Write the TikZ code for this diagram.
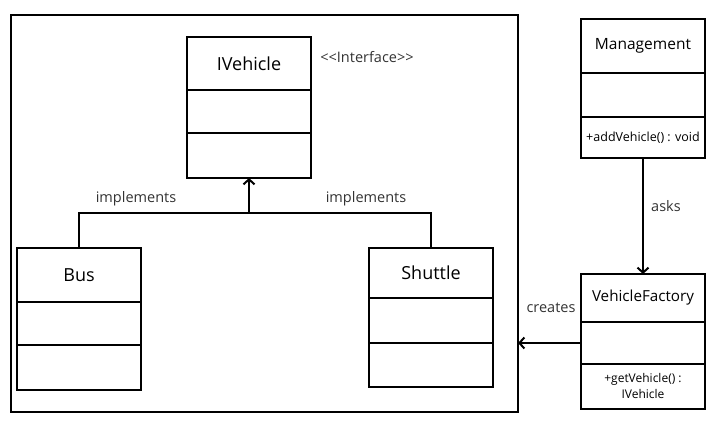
\documentclass[tikz,border=0pt]{standalone}
\usepackage{fontspec}
\setmainfont{Open Sans}
\usepackage{xcolor}
\usetikzlibrary{positioning,arrows.meta}

\definecolor{labelgray}{HTML}{333333}
\tikzset{
  cell/.style={draw, line width=2pt, outer sep=0pt, inner sep=0pt, minimum width=124pt, minimum height=#1, align=center},
  conn/.style={draw, line width=2pt},
  barb/.style={conn, -{Straight Barb[length=5pt, width=11pt]}},
  lbl/.style={text=labelgray, font=\fontsize{14.5}{16}\selectfont, inner sep=0pt}
}

\begin{document}
\begin{tikzpicture}[x=1pt, y=-1pt]
\useasboundingbox (0,0) rectangle (716,422);

\node[draw, line width=2pt, outer sep=0pt, minimum width=507pt, minimum height=397pt, anchor=north west] (pkg) at (11,15) {};

\node[cell=53pt, anchor=north west, font=\fontsize{18}{20}\selectfont] (ivehicle) at (187,37) {IVehicle};
\node[cell=43pt, below=0pt of ivehicle] (ivehicle attr) {};
\node[cell=45pt, below=0pt of ivehicle attr] (ivehicle ops) {};
\node[lbl] (stereo) at (367,57) {<{}<Interface>{}>};

\node[cell=54pt, anchor=north west, font=\fontsize{18}{20}\selectfont] (bus) at (17,248) {Bus};
\node[cell=43pt, below=0pt of bus] (bus attr) {};
\node[cell=45pt, below=0pt of bus attr] (bus ops) {};

\node[cell=50pt, anchor=north west, font=\fontsize{18}{20}\selectfont] (shuttle) at (369,248) {Shuttle};
\node[cell=45pt, below=0pt of shuttle] (shuttle attr) {};
\node[cell=44pt, below=0pt of shuttle attr] (shuttle ops) {};

\node[cell=54pt, anchor=north west, font=\fontsize{15.5}{18}\selectfont] (mgmt) at (581,19) {Management};
\node[cell=44pt, below=0pt of mgmt] (mgmt attr) {};
\node[cell=41pt, below=0pt of mgmt attr, font=\fontsize{12.5}{14}\selectfont] (mgmt ops) {+addVehicle() : void};

\node[cell=48pt, anchor=north west, font=\fontsize{15.2}{18}\selectfont] (factory) at (581,274) {VehicleFactory};
\node[cell=42pt, below=0pt of factory] (factory attr) {};
\node[cell=45pt, below=0pt of factory attr, font=\fontsize{12}{16}\selectfont] (factory ops) {+getVehicle() :\\IVehicle};

\coordinate (join) at ([yshift=-35pt]ivehicle ops.south);
\path[conn] (bus.north) |- (join);
\path[conn] (shuttle.north) |- (join);
\path[barb] (join) -- (ivehicle ops.south);
\node[lbl] (impl left) at (136,199) {implements};
\node[lbl] (impl right) at (366,199) {implements};

\path[barb] (mgmt ops.south) -- (factory.north);
\node[lbl] (asks) at (666,206) {asks};

\path[barb] (factory attr.west) -- (factory attr.west -| pkg.east);
\node[lbl] (creates) at (551,308) {creates};
\end{tikzpicture}
\end{document}
